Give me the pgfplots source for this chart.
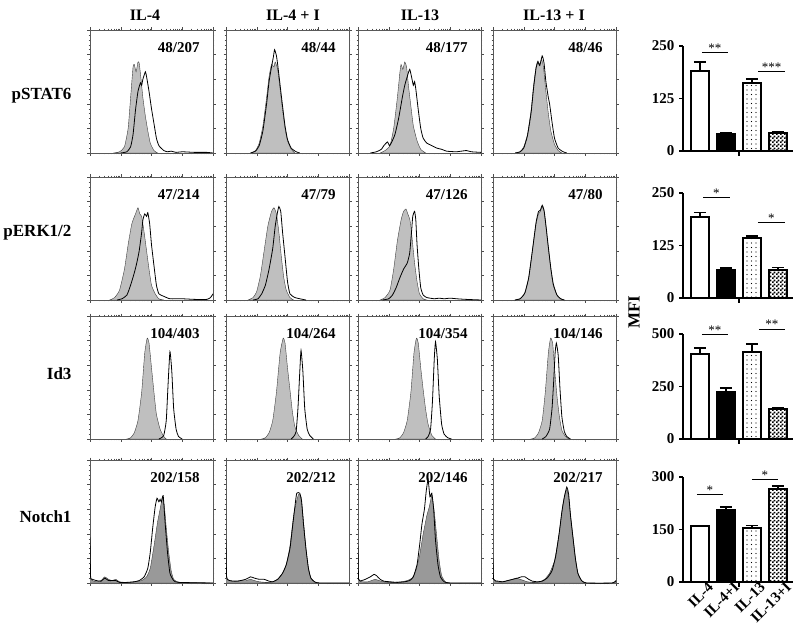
\documentclass[border=0pt]{standalone}
\usepackage{fontspec}
\setmainfont{Liberation Serif}
\usepackage{pgfplots}
\pgfplotsset{compat=1.18}
\usetikzlibrary{patterns}

\pgfdeclarepatternformonly{finecheck}{\pgfpointorigin}{\pgfqpoint{4pt}{4pt}}{\pgfqpoint{4pt}{4pt}}{%
  \pgfpathrectangle{\pgfpointorigin}{\pgfqpoint{2pt}{2pt}}%
  \pgfpathrectangle{\pgfqpoint{2pt}{2pt}}{\pgfqpoint{2pt}{2pt}}%
  \pgfusepath{fill}}
\pgfdeclarepatternformonly{sparsedots}{\pgfqpoint{-1pt}{-1pt}}{\pgfqpoint{1pt}{1pt}}{\pgfqpoint{4.5pt}{4.5pt}}{%
  \pgfpathcircle{\pgfpointorigin}{0.6pt}%
  \pgfusepath{fill}}

\pgfplotsset{
  hist/.style={
    scale only axis, width=123pt, height=123pt, anchor=north west,
    xmin=0, xmax=100, ymin=0, ymax=100,
    xtick={0,25,50,75,100}, ytick={0,20,40,60,80,100},
    xticklabels={}, yticklabels={},
    minor y tick num=4,
    minor xtick={7.53,11.93,15.05,17.47,19.45,21.13,22.58,23.86,
                 32.53,36.93,40.05,42.47,44.45,46.13,47.58,48.86,
                 57.53,61.93,65.05,67.47,69.45,71.13,72.58,73.86,
                 82.53,86.93,90.05,92.47,94.45,96.13,97.58,98.86},
    tick align=outside, major tick length=2.5pt, minor tick length=1.3pt,
    tick style={black!70, line width=0.4pt},
    axis line style={black!65, line width=0.6pt},
  },
  gfill/.style={fill=#1, draw=black!75, line width=0.4pt, smooth, tension=0.3},
  bline/.style={black, line width=0.8pt, smooth, tension=0.3},
  barax/.style={
    scale only axis, width=110pt, height=105pt, anchor=north west,
    xmin=0.35, xmax=4.58, ymin=0, clip=false,
    axis x line*=bottom, axis y line*=left,
    axis line style={-, line width=1.8pt, black},
    xtick=\empty,
    tick align=outside, major tick length=4pt,
    ytick style={black, line width=1.5pt},
    /pgf/number format/assume math mode=true,
    y tick label style={font=\fontsize{15}{15}\selectfont\bfseries, xshift=-1pt},
  },
  errb/.style={error bars/y dir=plus, error bars/y explicit,
    error bars/error bar style={line width=1.6pt, black},
    error bars/error mark options={rotate=90, mark size=6pt, line width=1.6pt, black}},
  bb/.style={ybar, bar width=18pt, bar shift=0pt, draw=black, line width=1.8pt, errb},
}

\newcommand\hp[6]{%
  \begin{axis}[hist, at={(#1pt,-#2pt)}]
    \addplot[gfill=#6] coordinates {#3} \closedcycle;
    \addplot[bline] coordinates {#4};
    \node[anchor=east, font=\fontsize{15}{15}\selectfont\bfseries] at (rel axis cs:0.92,0.86) {#5};
  \end{axis}}

\newcommand\sig[4]{% x1 x2 y stars
  \draw[line width=0.8pt] (axis cs:#1,#3) -- (axis cs:#2,#3);
  \node[anchor=base, inner sep=0pt, font=\fontsize{13}{13}\selectfont] at (axis cs:{(#1+#2)/2},#3) {#4};}

\newcommand\midtick{\draw[line width=1.5pt] (axis cs:2.5,0) -- ([yshift=-5pt]axis cs:2.5,0);}

\begin{document}
\begin{tikzpicture}
\useasboundingbox (0,0) rectangle (800pt,-639pt);

% column titles and row labels
\begin{scope}[every node/.style={font=\fontsize{16}{16}\selectfont\bfseries}]
\node at (145pt,-15pt) {IL-4};
\node at (293pt,-15pt) {IL-4 + I};
\node at (420pt,-15pt) {IL-13};
\node at (554pt,-15pt) {IL-13 + I};
\end{scope}
\begin{scope}[every node/.style={font=\fontsize{17}{17}\selectfont\bfseries}]
\node[anchor=east] at (75pt,-96pt) {pSTAT6};
\node[anchor=east] at (75pt,-233pt) {pERK1/2};
\node[anchor=east] at (75pt,-374pt) {Id3};
\node[anchor=east] at (75pt,-517pt) {Notch1};
\node[rotate=90] at (634pt,-312pt) {MFI};
\end{scope}

% ---------------- Row 1: pSTAT6
\hp{90}{30}{(19,0)(24,1)(28,5)(31,20)(33,45)(35,70)(36,72)(37.5,66)(39,74)(40,73)(41.5,60)(43,45)(45,30)(47,18)(49,8)(52,2)(55,0)}
{(25,0)(30,1)(33,5)(35,15)(37,35)(39,50)(41,57)(42,55)(43,60)(45,66)(46,62)(48,50)(50,36)(52,24)(54,12)(56,6)(60,2)(63,1)(66,1.5)(70,0.5)(75,1)(85,0.5)(95,0.5)(100,0)}
{48/207}{gray!50}
\hp{226}{30}{(20,0)(24,2)(27,8)(30,22)(33,45)(35,62)(37,72)(39,70)(40,74)(42,68)(44,52)(46,35)(48,20)(50,10)(53,3)(56,0)}
{(20,0)(24,1.5)(27,6)(30,18)(33,40)(35,58)(37,70)(38.5,78)(39.5,84)(41,79)(42,72)(44,55)(46,38)(48,22)(50,11)(53,4)(57,1)(60,0)}
{48/44}{gray!50}
\hp{358}{30}{(18,0)(22,2)(26,6)(29,20)(32,45)(34,65)(35,72)(36.5,68)(38,74)(39.5,70)(41,55)(43,38)(45,22)(48,10)(51,3)(55,0)}
{(10,0)(15,1)(19,3)(21,6)(24,9)(25.5,6)(27,8)(30,15)(33,28)(36,45)(38,55)(40,62)(42,68)(43.5,62)(45,55)(46,58)(47,52)(49,35)(51,20)(53,12)(56,8)(60,6)(64,4)(68,3)(72,1.5)(80,1)(88,2)(92,1)(100,0.5)}
{48/177}{gray!50}
\hp{493}{30}{(18,0)(22,1)(25,5)(28,15)(31,35)(33,55)(35,70)(36.5,75)(38,72)(39.5,76)(41,70)(43,50)(45,32)(47,18)(50,7)(53,2)(56,0)}
{(18,0)(22,1)(25,4)(28,14)(31,33)(33,53)(35,69)(36.5,74)(38,71)(40,79)(41.5,73)(43,58)(45,45)(46,40)(48,25)(50,12)(53,4)(57,1)(60,0)}
{48/46}{gray!50}

% ---------------- Row 2: pERK1/2
\hp{90}{177}{(16,0)(20,2)(24,8)(28,25)(31,45)(34,62)(37,70)(39,75)(40.5,70)(42,68)(44,55)(46,40)(48,25)(50,12)(53,5)(56,1)(60,0)}
{(22,0)(26,1)(30,4)(33,12)(36,22)(38,30)(40,40)(42,55)(43,65)(44.5,70)(46,68)(47,71)(48.5,62)(50,45)(52,28)(54,12)(56,5)(60,3)(65,1)(75,1)(85,0.5)(95,0.5)(98,2)(100,5)}
{47/214}{gray!50}
\hp{226}{177}{(18,0)(22,2)(25,7)(28,20)(31,40)(34,60)(37,72)(39,75)(41,70)(43,55)(45,35)(47,18)(49,8)(52,2)(55,0)}
{(22,0)(26,1)(29,5)(32,12)(35,25)(38,42)(40,60)(42,72)(43,76)(44.5,72)(46,55)(48,35)(50,15)(52,5)(56,2)(60,1)(65,0)}
{47/79}{gray!50}
\hp{358}{177}{(18,0)(22,2)(26,8)(29,25)(32,48)(35,65)(37,72)(39,74)(40.5,70)(42,66)(43,60)(44.5,45)(46,30)(48,15)(50,5)(53,1)(56,0)}
{(20,0)(25,1)(28,4)(31,10)(34,18)(37,25)(40,30)(42,38)(43.5,55)(44.5,68)(46,72)(47,65)(48,45)(49.5,25)(51,10)(53,4)(56,2)(62,1)(66,1.5)(70,1)(75,1.5)(80,1)(88,0.5)(100,0)}
{47/126}{gray!50}
\hp{493}{177}{(18,0)(22,1)(24,3)(26,6)(29,18)(32,40)(35,62)(37,70)(38.5,72)(40,76)(41.5,72)(43,60)(45,42)(47,25)(49,12)(52,4)(55,1)(58,0)}
{(18,0)(22,1)(24,3)(26,6)(29,18)(32,40)(35,63)(37,72)(38.5,73)(40,77)(41.5,73)(43,61)(45,43)(47,26)(49,13)(52,4)(55,1)(58,0)}
{47/80}{gray!50}

% ---------------- Row 3: Id3
\hp{90}{316}{(30,0)(33,1)(36,5)(39,15)(42,38)(44.5,70)(46.5,82)(48,78)(50,58)(52,38)(54,20)(57,8)(60,2)(62,0)}
{(56,0)(58,1)(60,3)(62,15)(63.5,45)(65,71)(66.5,55)(68,25)(70,8)(72,2)(75,0)}
{104/403}{gray!50}
\hp{226}{316}{(29,0)(32,1)(35,5)(38,15)(41,38)(44,70)(46.5,82)(48,78)(50,58)(52,40)(54,22)(56,10)(59,3)(62,0)}
{(53,0)(55,2)(57,6)(58.5,25)(60,55)(61,72)(62.5,55)(64,25)(66,8)(68,3)(71,0)}
{104/264}{gray!50}
\hp{358}{316}{(31,0)(34,1)(37,5)(40,15)(43,38)(45.5,70)(47.5,82)(49,78)(51,58)(53,40)(55,24)(57,12)(60,3)(63,0)}
{(55,0)(57,2)(59,8)(60.5,30)(62,65)(63,79)(64.5,65)(66,35)(68,12)(70,4)(73,1)(76,0)}
{104/354}{gray!50}
\hp{493}{316}{(31,0)(34,1)(37,5)(40,15)(42.5,38)(45,70)(46.8,82)(48.5,78)(50,58)(52,35)(54,18)(56,7)(59,2)(62,0)}
{(40,0)(43,2)(46,8)(48,25)(49.5,50)(50.5,70)(51.5,78)(53,68)(54.5,40)(56,18)(58,6)(60,2)(63,0)}
{104/146}{gray!50}

% ---------------- Row 4: Notch1
\hp{90}{460}{(0,37)(0.5,5)(2,2)(5,1)(9,2)(12,5)(15,3)(18,2)(21,3)(24,1)(30,0.5)(36,1)(42,2)(46,5)(49,12)(52,30)(55,50)(57,60)(59,70)(60.5,62)(62,45)(64,25)(66,10)(68,3)(71,1)(75,0.5)(100,0)}
{(0,37)(0.5,5)(2,3)(5,2)(9,1.5)(12,4)(15,2)(18,2)(21,2)(24,0.5)(30,0.5)(36,1)(40,2)(44,5)(47,12)(49,25)(51,45)(53,62)(54.5,69)(56,66)(57,68)(58,66)(59.5,71)(61,50)(63,25)(65,8)(68,2)(72,0.5)(100,0)}
{202/158}{gray!80}
\hp{226}{460}{(0,35)(0.5,5)(3,2)(8,1)(12,2)(16,2)(20,3)(23,2)(27,1)(33,0.5)(38,1)(42,3)(46,8)(49,15)(52,30)(55,55)(57,65)(59,72)(61,70)(63,50)(65,28)(67,12)(69,4)(72,1)(76,0)(100,0)}
{(0,35)(0.5,5)(3,2)(8,1.5)(12,2)(16,3)(20,5)(23,4)(27,3)(31,3)(35,1.5)(38,1)(42,3)(46,8)(49,15)(52,28)(54,45)(56,62)(57.5,73)(60,73)(61.5,66)(63,48)(65,28)(67,12)(69,4)(72,1)(76,0)(100,0)}
{202/212}{gray!80}
\hp{358}{460}{(0,30)(0.5,3)(4,1)(8,1)(11,2)(14,3)(17,2)(21,1)(28,0.5)(35,1)(40,2)(44,4)(47,10)(50,22)(53,40)(56,55)(58,62)(60,71)(62,58)(64,38)(66,18)(68,6)(71,1)(75,0)(100,0)}
{(0,30)(0.5,3)(3,2)(6,3)(10,5)(13,7)(15,6)(18,3)(21,1.5)(26,1)(32,0.5)(38,1)(42,2)(45,5)(48,15)(50,30)(52,48)(54,60)(55.5,75)(57,84)(58.5,70)(60,73)(61.5,60)(63,35)(65,15)(67,5)(70,1)(75,0)(100,0)}
{202/146}{gray!80}
\hp{493}{460}{(0,20)(0.5,3)(4,1)(8,1)(12,2)(16,3)(19,4)(22,3)(25,2)(28,1)(33,0.5)(38,1)(42,3)(46,8)(50,18)(53,35)(55,50)(57,65)(59,74)(60,76)(61.5,70)(63,55)(65,38)(67,20)(69,8)(72,2)(76,0)(97,0)(100,2)}
{(0,20)(0.5,3)(4,1.5)(8,1)(12,2)(16,3)(20,4)(23,5)(26,5)(29,3)(32,1.5)(36,1)(40,1.5)(44,4)(48,10)(51,22)(54,42)(56,58)(58,70)(60,78)(61.5,72)(63,55)(65,37)(67,20)(69,8)(72,2)(76,0)(97,0)(100,2)}
{202/217}{gray!80}

% ---------------- Bar charts
\begin{axis}[barax, at={(683pt,-46pt)}, ymax=250, ytick={0,125,250}]
  \addplot[bb, fill=white] coordinates {(1,190) +- (0,22)};
  \addplot[bb, fill=black] coordinates {(2,40) +- (0,3)};
  \addplot[bb, pattern=sparsedots] coordinates {(3,162) +- (0,9)};
  \addplot[bb, pattern=finecheck] coordinates {(4,43) +- (0,3)};
  \midtick
  \sig{1.08}{2.08}{235}{**}
  \sig{3.24}{4.27}{190}{***}
\end{axis}

\begin{axis}[barax, at={(683pt,-193pt)}, ymax=250, ytick={0,125,250}]
  \addplot[bb, fill=white] coordinates {(1,192) +- (0,12)};
  \addplot[bb, fill=black] coordinates {(2,68) +- (0,4)};
  \addplot[bb, pattern=sparsedots] coordinates {(3,142) +- (0,6)};
  \addplot[bb, pattern=finecheck] coordinates {(4,66) +- (0,7)};
  \midtick
  \sig{1.12}{2.15}{240}{*}
  \sig{3.23}{4.27}{180}{*}
\end{axis}

\begin{axis}[barax, at={(683pt,-334pt)}, ymax=500, ytick={0,250,500}]
  \addplot[bb, fill=white] coordinates {(1,405) +- (0,28)};
  \addplot[bb, fill=black] coordinates {(2,222) +- (0,22)};
  \addplot[bb, pattern=sparsedots] coordinates {(3,414) +- (0,38)};
  \addplot[bb, pattern=finecheck] coordinates {(4,143) +- (0,5)};
  \midtick
  \sig{1.08}{2.08}{500}{**}
  \sig{3.27}{4.27}{524}{**}
\end{axis}

\begin{axis}[barax, at={(683pt,-477pt)}, ymax=300, ytick={0,150,300},
  xtick={1,2,3,4}, xticklabels={IL-4,IL-4+I,IL-13,IL-13+I},
  xtick style={draw=none},
  x tick label style={font=\fontsize{15}{15}\selectfont\bfseries, rotate=45, anchor=north east, inner sep=0.5pt, xshift=9pt, yshift=-1pt}]
  \addplot[bb, fill=white] coordinates {(1,160) +- (0,2)};
  \addplot[bb, fill=black] coordinates {(2,207) +- (0,7)};
  \addplot[bb, pattern=sparsedots] coordinates {(3,155) +- (0,6)};
  \addplot[bb, pattern=finecheck] coordinates {(4,266) +- (0,9)};
  \midtick
  \sig{0.88}{1.88}{251}{*}
  \sig{3.0}{4.0}{294}{*}
\end{axis}
\end{tikzpicture}
\end{document}
